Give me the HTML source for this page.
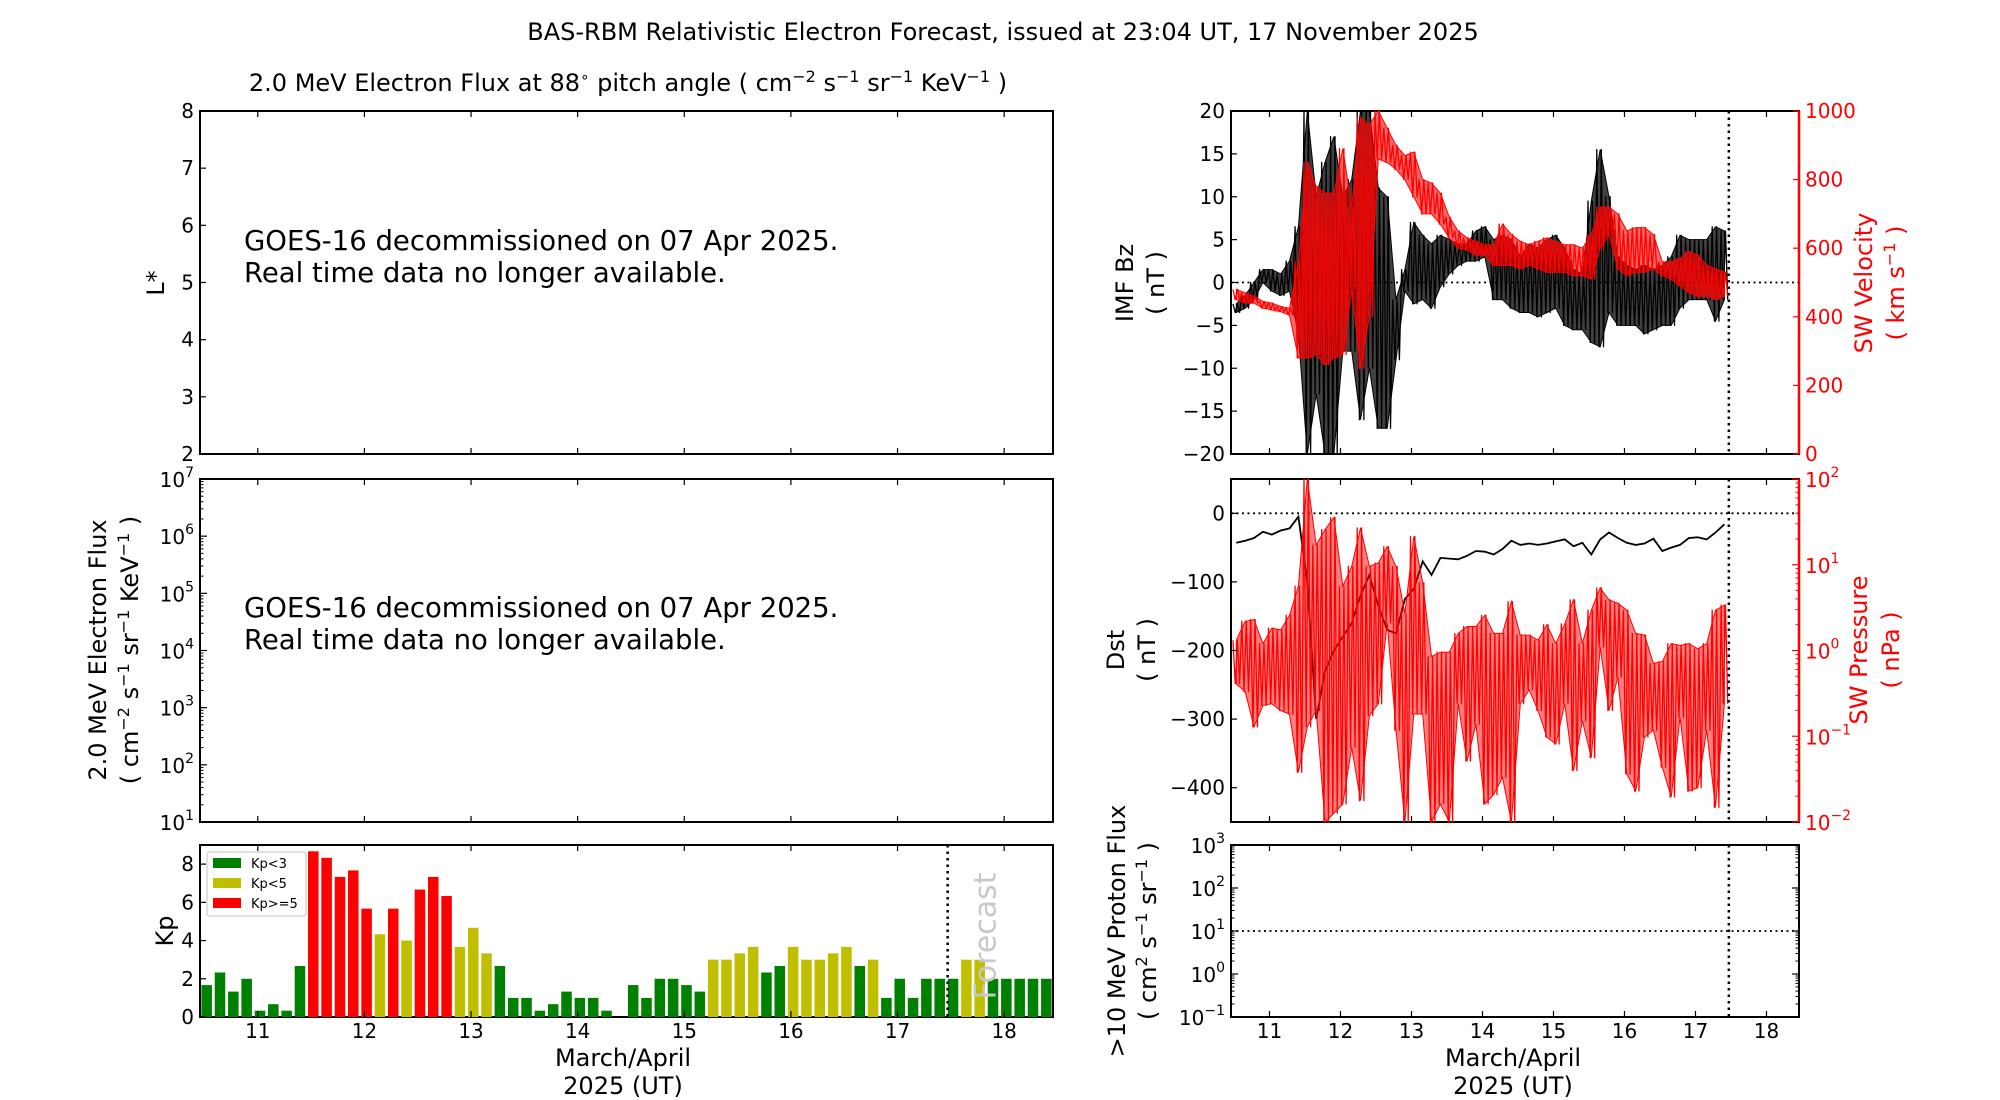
<!DOCTYPE html>
<html>
<head>
<meta charset="utf-8">
<style>
html,body{margin:0;padding:0;background:#fff;}
svg{display:block;font-family:"DejaVu Sans","Liberation Sans",sans-serif;}
</style>
</head>
<body>
<svg id="chart" width="2000" height="1100" viewBox="0 0 2000 1100" xmlns="http://www.w3.org/2000/svg">
<rect x="0" y="0" width="2000" height="1100" fill="#fff"/>
<text x="1003" y="40" font-size="24" text-anchor="middle">BAS-RBM Relativistic Electron Forecast, issued at 23:04 UT, 17 November 2025</text>
<text x="628" y="91" font-size="24" text-anchor="middle">2.0 MeV Electron Flux at 88<tspan dy="-9" font-size="15">∘</tspan><tspan dy="9"> pitch angle ( cm</tspan><tspan dy="-9" font-size="16">−2</tspan><tspan dy="9"> s</tspan><tspan dy="-9" font-size="16">−1</tspan><tspan dy="9"> sr</tspan><tspan dy="-9" font-size="16">−1</tspan><tspan dy="9"> KeV</tspan><tspan dy="-9" font-size="16">−1</tspan><tspan dy="9"> )</tspan></text>
<g id="layer"></g>
</svg>
<script>
// ---------- data ----------
const kpValues = [1.67,2.33,1.33,2,0.33,0.67,0.33,2.67,8.67,8.33,7.33,7.67,5.67,4.33,5.67,4,6.67,7.33,6.33,3.67,4.67,3.33,2.67,1,1,0.33,0.67,1.33,1,1,0.33,0,1.67,1,2,2,1.67,1.33,3,3,3.33,3.67,2.33,2.67,3.67,3,3,3.33,3.67,2.67,3,1,2,1,2,2,2,3,3,2,2,2,2,2];
const dayTicks = [11,12,13,14,15,16,17,18];
const bzLo = [-3.5,-3,-2,0,-1,-1.5,-1,-6,-20,-13,-20,-20,-8,-8,-16,-10,-17,-17,-9,-1,-2.5,-2,-3,-0.5,1,2,2.5,2.5,3,-2,-2,-3,-3.5,-3.5,-4,-3.5,-3,-5,-5.5,-5.5,-7,-7.5,-3.5,-5,-5,-5,-6,-5.5,-5,-5,-3,-2,-2,-2,-4.5,-2];
const bzHi = [-2.5,-1.5,0,1.5,1.5,1,2.5,6.5,20,10,14,17,10,12,20,20,11,10,-2,1.5,7,5.5,4.5,5.5,5,4.5,4.5,6,6.5,5,5.5,5,3,4.5,4,5,5.5,4,1.5,1,9.5,15.5,10,3,2,1.5,2,1.5,2,3,5.5,5,5,5,6.5,6];
const vLo = [450,440,440,425,420,415,405,280,280,290,260,280,290,480,250,400,860,850,830,800,750,700,700,670,630,600,595,580,580,550,550,550,540,550,540,530,530,530,520,520,510,600,640,540,520,530,530,540,520,510,490,470,460,460,450,460];
const vHi = [480,470,460,445,440,430,425,560,850,780,760,760,890,720,980,960,1000,950,900,870,880,800,790,760,690,650,630,620,610,610,670,640,620,610,620,630,620,610,610,600,640,720,720,700,650,660,660,640,560,560,570,590,580,550,540,530];
const dstValues = [-43,-40,-36,-27,-31,-25,-22,-5,-100,-300,-230,-200,-180,-160,-120,-90,-135,-170,-175,-125,-110,-70,-90,-65,-66,-67,-62,-55,-56,-60,-52,-40,-46,-44,-46,-44,-41,-38,-48,-43,-60,-38,-28,-36,-43,-46,-44,-37,-55,-50,-46,-36,-35,-38,-28,-16];
const pLog10Hi = [0.12,0.34,0.36,0.08,0.26,0.24,0.41,0.75,2.0,1.23,1.41,1.55,0.75,0.98,1.43,0.98,1.02,1.21,0.98,0.43,1.33,0.79,-0.07,-0.02,-0.02,0.2,0.28,0.28,0.41,0.2,0.2,0.57,0.18,0.18,0.12,0.3,0.08,0.31,0.59,0.08,0.47,0.73,0.59,0.55,0.47,0.2,0.18,-0.15,-0.13,0.08,0.06,0.08,0.02,0.08,0.47,0.53];
const pLog10Lo = [-0.39,-0.48,-0.89,-0.64,-0.62,-0.7,-0.74,-1.42,-0.89,-0.7,-2,-1.9,-1.79,-1.13,-1.75,-0.76,-0.62,0.32,-0.93,-2,-0.74,-0.74,-2,-1.79,-2,-0.62,-1.29,-0.86,-1.79,-1.68,-1.48,-2,-0.62,-0.46,-0.7,-1.01,-1.09,-0.62,-1.4,-0.82,-1.25,0.04,-0.7,-0.31,-1.44,-1.64,-1.01,-0.93,-1.36,-1.71,-0.78,-1.64,-1.6,-0.93,-1.83,-0.62];
const bzTicks = [-20,-15,-10,-5,0,5,10,15,20];
const vTicks = [0,200,400,600,800,1000];
const dstTicks = [0,-100,-200,-300,-400];
const lstarTicks = [2,3,4,5,6,7,8];
const kpTicks = [0,2,4,6,8];
const nowDay = 17.47;
const tStart = 10.458, tEnd = 18.458;
const dataStart = 10.47, binDays = 1/8;

// ---------- helpers ----------
const NS = 'http://www.w3.org/2000/svg';
const layer = document.getElementById('layer');
function mk(tag, attrs, parent) {
  const e = document.createElementNS(NS, tag);
  for (const k in attrs) e.setAttribute(k, attrs[k]);
  (parent || layer).appendChild(e);
  return e;
}
function linY(ax, lo, hi) { return v => ax.y1 - (v - lo) / (hi - lo) * (ax.y1 - ax.y0); }
function xOf(ax) { return t => ax.x0 + (t - tStart) / (tEnd - tStart) * (ax.x1 - ax.x0); }

const L1 = {x0:200,x1:1053,y0:111,y1:454};
const L2 = {x0:200,x1:1053,y0:479,y1:822};
const L3 = {x0:200,x1:1053,y0:845,y1:1017};
const R1 = {x0:1231,x1:1799,y0:111,y1:454};
const R2 = {x0:1231,x1:1799,y0:479,y1:822};
const R3 = {x0:1231,x1:1799,y0:845,y1:1017};
const TICKFS = 20;

function frame(ax, name, rightColor) {
  const g = mk('g', {});
  
  
  const r = mk('rect', {x:ax.x0, y:ax.y0, width:ax.x1-ax.x0, height:ax.y1-ax.y0, fill:'none', stroke:'#000', 'stroke-width':2}, g);
  
  
  if (rightColor) {
    const s = mk('line', {x1:ax.x1, y1:ax.y0, x2:ax.x1, y2:ax.y1, stroke:rightColor, 'stroke-width':2.5}, g);
    
    
  }
  return g;
}
function xTicks(ax, labels) {
  const X = xOf(ax);
  dayTicks.forEach(d => {
    const x = X(d);
    const t1 = mk('line', {x1:x, y1:ax.y1, x2:x, y2:ax.y1-6, stroke:'#000', 'stroke-width':1.2});
    
    
    const t2 = mk('line', {x1:x, y1:ax.y0, x2:x, y2:ax.y0+6, stroke:'#000', 'stroke-width':1.2});
    
    
    if (labels) {
      const tx = mk('text', {x:x, y:ax.y1+21, 'font-size':TICKFS, 'text-anchor':'middle'});
      tx.textContent = String(d);
      
      
    }
  });
}
function yTicksLin(ax, ticks, Y, side, color) {
  const c = color || '#000';
  ticks.forEach(v => {
    const y = Y(v);
    const x = side === 'right' ? ax.x1 : ax.x0;
    const dir = side === 'right' ? -1 : 1;
    const tk = mk('line', {x1:x, y1:y, x2:x+dir*6, y2:y, stroke:c, 'stroke-width':1.2});
    
    
    const tx = mk('text', {x: side==='right' ? x+6 : x-6, y:y+7, 'font-size':TICKFS, fill:c, 'text-anchor': side==='right' ? 'start' : 'end'});
    tx.textContent = String(v).replace('-', '−');
    
    
  });
}
function yTicksLog(ax, lo, hi, side, color, noLabels) {
  const c = color || '#000';
  const Y = linY(ax, lo, hi);
  const x = side === 'right' ? ax.x1 : ax.x0;
  const dir = side === 'right' ? -1 : 1;
  for (let e = lo; e <= hi; e++) {
    const y = Y(e);
    const tk = mk('line', {x1:x, y1:y, x2:x+dir*7, y2:y, stroke:c, 'stroke-width':1.2});
    
    
    if (!noLabels) {
      const tx = mk('text', {x: side==='right' ? x+6 : x-6, y:y+8, 'font-size':TICKFS, fill:c, 'text-anchor': side==='right' ? 'start' : 'end'});
      
      
      const b = mk('tspan', {}, tx); b.textContent = '10';
      const s = mk('tspan', {dy:-10, 'font-size':14}, tx); s.textContent = String(e).replace('-', '−');
    }
    if (e < hi) {
      for (let m = 2; m <= 9; m++) {
        const ym = Y(e + Math.log10(m));
        const mt = mk('line', {x1:x, y1:ym, x2:x+dir*3.5, y2:ym, stroke:c, 'stroke-width':1});
        
        
      }
    }
  }
}
function ylabel(x, cy, lines, color, name) {
  const tx = mk('text', {x:0, y:0, 'font-size':24, fill:color||'#000', 'text-anchor':'middle', transform:`translate(${x},${cy}) rotate(-90)`});
  
  
  tx.innerHTML = lines;
}
function band(ax, lo, hi, Y, color, name, op) {
  const X = xOf(ax);
  const g = mk('g', {});
  
  
  const n = lo.length;
  let up = [], dn = [];
  for (let k = 0; k < n; k++) {
    const t = dataStart + (k + 0.5) * binDays;
    up.push(X(t).toFixed(1) + ',' + Y(hi[k]).toFixed(1));
    dn.push(X(t).toFixed(1) + ',' + Y(lo[k]).toFixed(1));
  }
  const poly = mk('polygon', {points: up.concat(dn.reverse()).join(' '), fill:color, 'fill-opacity':op, stroke:color, 'stroke-width':1}, g);
  
  
  let zz = [];
  for (let k = 0; k < n; k++) {
    for (let q = 0; q < 4; q++) {
      const t = dataStart + (k + q/4 + 0.125) * binDays;
      const v = (q % 2 === 0) ? hi[k] : lo[k];
      zz.push(X(t).toFixed(1) + ',' + Y(v).toFixed(1));
    }
  }
  const pl = mk('polyline', {points: zz.join(' '), fill:'none', stroke:color, 'stroke-width':1.3, 'stroke-linejoin':'round'}, g);
  
  
}
function vDotted(ax, name) {
  const x = xOf(ax)(nowDay);
  const l = mk('line', {x1:x, y1:ax.y0, x2:x, y2:ax.y1, stroke:'#000', 'stroke-width':2.5, 'stroke-dasharray':'2.5,4'});
  
  
}
function hDotted(ax, y, name) {
  const l = mk('line', {x1:ax.x0, y1:y, x2:ax.x1, y2:y, stroke:'#000', 'stroke-width':1.8, 'stroke-dasharray':'2,3.5'});
  
  
}
function goesNote(ax, cy, name) {
  const tx = mk('text', {x:244, y:cy, 'font-size':27.5});
  
  
  const a = mk('tspan', {x:244, dy:0}, tx); a.textContent = 'GOES-16 decommissioned on 07 Apr 2025.';
  const b = mk('tspan', {x:244, dy:32}, tx); b.textContent = 'Real time data no longer available.';
}

// ---------- Left panel 1: L* ----------
frame(L1, 'lstar-panel');
xTicks(L1, false);
yTicksLin(L1, lstarTicks, linY(L1, 2, 8), 'left');
ylabel(164, 283, 'L*', '#000', 'lstar-axis-title');
goesNote(L1, 250, 'lstar-unavailable-note');

// ---------- Left panel 2: flux ----------
frame(L2, 'flux-panel');
xTicks(L2, false);
yTicksLog(L2, 1, 7, 'left');
ylabel(106, 650, '2.0 MeV Electron Flux', '#000', 'flux-axis-title');
ylabel(138, 650, '( cm<tspan dy="-9" font-size="16">−2</tspan><tspan dy="9"> s</tspan><tspan dy="-9" font-size="16">−1</tspan><tspan dy="9"> sr</tspan><tspan dy="-9" font-size="16">−1</tspan><tspan dy="9"> KeV</tspan><tspan dy="-9" font-size="16">−1</tspan><tspan dy="9"> )</tspan>', '#000', 'flux-axis-units');
goesNote(L2, 617, 'flux-unavailable-note');

// ---------- Left panel 3: Kp ----------
frame(L3, 'kp-panel');
(function(){
  const X = xOf(L3), Y = linY(L3, 0, 9);
  kpValues.forEach((v, i) => {
    const t0 = tStart + i * binDays;
    const x0 = X(t0) + 1.4, x1 = X(t0 + binDays) - 1.4;
    const col = v >= 5 ? '#ff0000' : (v >= 3 ? '#bfbf00' : '#008000');
    if (v <= 0) return;
    const r = mk('rect', {x:x0, y:Y(v), width:x1-x0, height:Y(0)-Y(v), fill:col});
    
    
  });
})();
xTicks(L3, true);
yTicksLin(L3, kpTicks, linY(L3, 0, 9), 'left');
ylabel(173, 931, 'Kp', '#000', 'kp-axis-title');
vDotted(L3, 'kp-now-line');
(function(){
  const x = xOf(L3)(nowDay) + 48;
  const f = mk('text', {x:0, y:0, 'font-size':30, fill:'#c8c8c8', 'text-anchor':'middle', transform:`translate(${x},936) rotate(-90)`});
  f.textContent = 'Forecast';
  
  
  const lg = mk('g', {});
  
  
  const box = mk('rect', {x:207, y:852, width:99, height:64, rx:3, fill:'#fff', stroke:'#ccc', 'stroke-width':1.2}, lg);
  
  
  const entries = [['Kp<3','#008000'],['Kp<5','#bfbf00'],['Kp>=5','#ff0000']];
  entries.forEach((e, i) => {
    const y = 858 + i * 20;
    const sw = mk('rect', {x:213, y:y, width:28, height:10, fill:e[1]}, lg);
    
    
    const tx = mk('text', {x:251, y:y+10, 'font-size':13}, lg);
    tx.textContent = e[0];
    
    
  });
})();
(function(){
  const a = mk('text', {x:623, y:1066, 'font-size':24, 'text-anchor':'middle'});
  a.textContent = 'March/April';
  
  
  const b = mk('text', {x:623, y:1094, 'font-size':24, 'text-anchor':'middle'});
  b.textContent = '2025 (UT)';
  
  
})();

// ---------- Right panel 1: Bz / velocity ----------
frame(R1, 'bz-velocity-panel', '#ff0000');
(function(){
  const Yb = linY(R1, -20, 20), Yv = linY(R1, 0, 1000);
  hDotted(R1, Yb(0), 'bz-zero-line');
  band(R1, bzLo, bzHi, v => Math.max(R1.y0, Math.min(R1.y1, Yb(v))), '#000', 'bz-series', 0.75);
  band(R1, vLo, vHi, v => Math.max(R1.y0, Math.min(R1.y1, Yv(v))), '#ff0000', 'velocity-series', 0.6);
  vDotted(R1, 'bz-now-line');
  xTicks(R1, false);
  yTicksLin(R1, bzTicks, Yb, 'left');
  yTicksLin(R1, vTicks, Yv, 'right', '#ff0000');
})();
ylabel(1133, 283, 'IMF Bz', '#000', 'bz-axis-title');
ylabel(1164, 283, '( nT )', '#000', 'bz-axis-units');
ylabel(1872, 283, 'SW Velocity', '#ff0000', 'velocity-axis-title');
ylabel(1904, 283, '( km s<tspan dy="-9" font-size="16">−1</tspan><tspan dy="9"> )</tspan>', '#ff0000', 'velocity-axis-units');

// ---------- Right panel 2: Dst / pressure ----------
frame(R2, 'dst-pressure-panel', '#ff0000');
(function(){
  const Yd = linY(R2, -450, 50), Yp = linY(R2, -2, 2);
  hDotted(R2, Yd(0), 'dst-zero-line');
  const X = xOf(R2);
  const pts = dstValues.map((v, k) => X(dataStart + (k + 0.5) * binDays).toFixed(1) + ',' + Yd(v).toFixed(1));
  const dl = mk('polyline', {points: pts.join(' '), fill:'none', stroke:'#000', 'stroke-width':1.8});
  
  
  band(R2, pLog10Lo, pLog10Hi, v => Math.max(R2.y0, Math.min(R2.y1, Yp(v))), '#ff0000', 'pressure-series', 0.5);
  vDotted(R2, 'dst-now-line');
  xTicks(R2, false);
  yTicksLin(R2, dstTicks, Yd, 'left');
  yTicksLog(R2, -2, 2, 'right', '#ff0000');
})();
ylabel(1124, 650, 'Dst', '#000', 'dst-axis-title');
ylabel(1155, 650, '( nT )', '#000', 'dst-axis-units');
ylabel(1867, 650, 'SW Pressure', '#ff0000', 'pressure-axis-title');
ylabel(1899, 650, '( nPa )', '#ff0000', 'pressure-axis-units');

// ---------- Right panel 3: proton flux ----------
frame(R3, 'proton-panel');
(function(){
  const Yp = linY(R3, -1, 3);
  hDotted(R3, Yp(1), 'proton-threshold-line');
  vDotted(R3, 'proton-now-line');
  xTicks(R3, true);
  yTicksLog(R3, -1, 3, 'left');
  yTicksLog(R3, -1, 3, 'right', '#000', true);
})();
ylabel(1125, 931, '&gt;10 MeV Proton Flux', '#000', 'proton-axis-title');
ylabel(1156, 931, '( cm<tspan dy="-9" font-size="16">2</tspan><tspan dy="9"> s</tspan><tspan dy="-9" font-size="16">−1</tspan><tspan dy="9"> sr</tspan><tspan dy="-9" font-size="16">−1</tspan><tspan dy="9"> )</tspan>', '#000', 'proton-axis-units');
(function(){
  const a = mk('text', {x:1513, y:1066, 'font-size':24, 'text-anchor':'middle'});
  a.textContent = 'March/April';
  
  
  const b = mk('text', {x:1513, y:1094, 'font-size':24, 'text-anchor':'middle'});
  b.textContent = '2025 (UT)';
  
  
})();
</script>
</body>
</html>
